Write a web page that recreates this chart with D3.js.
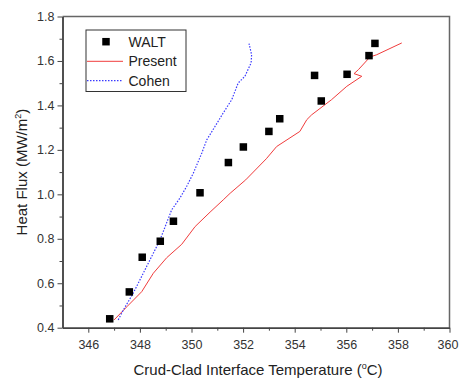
<!DOCTYPE html>
<html><head><meta charset="utf-8">
<script src="https://cdn.jsdelivr.net/npm/d3@7"></script>
<style>body{margin:0;background:#fff}svg{display:block}text{font-family:Arial,"Liberation Sans",sans-serif}</style>
</head><body><svg id="c" width="459" height="380"></svg>
<script>
const waltX = [346.83,347.59,348.09,348.79,349.30,350.33,351.43,352.01,353.00,353.42,354.77,355.03,356.03,356.88,357.11];
const waltY = [0.44,0.561,0.717,0.789,0.879,1.007,1.143,1.213,1.283,1.340,1.535,1.420,1.540,1.624,1.679];
const presentX = [347.0,347.5,348.07,348.52,349.04,349.62,350.14,350.72,351.23,351.5,352.1,352.9,353.3,354.2,354.47,354.66,355.43,356.02,356.60,356.30,356.47,356.92,357.18,358.15];
const presentY = [0.435,0.495,0.562,0.645,0.715,0.775,0.855,0.92,0.975,1.005,1.065,1.16,1.215,1.283,1.336,1.358,1.426,1.486,1.531,1.543,1.561,1.618,1.628,1.681];
const cohenX = [347.16,347.36,347.74,348.26,348.78,349.23,349.55,349.81,350.07,350.40,350.59,350.91,351.23,351.56,351.81,352.07,352.31,352.33,352.23];
const cohenY = [0.435,0.48,0.555,0.675,0.795,0.93,0.983,1.035,1.095,1.186,1.245,1.305,1.366,1.426,1.501,1.531,1.591,1.628,1.678];
const xTicks = [346,348,350,352,354,356,358,360];
const yTicks = [0.4,0.6,0.8,1.0,1.2,1.4,1.6,1.8];
const xMinor = [347,349,351,353,355,357,359];
const yMinor = [0.5,0.7,0.9,1.1,1.3,1.5,1.7];

const svg = d3.select("#c");
const L=62.5,R=449.5,T=16.5,B=327.7;
const x = d3.scaleLinear().domain([345,360]).range([L,R]);
const y = d3.scaleLinear().domain([0.4,1.8]).range([B,T]);
const axCol="#444";

svg.append("path").attr("d",`M${L},${T}H${R}V${B}`).attr("fill","none").attr("stroke","#666").attr("stroke-width",1.5);

const xa = svg.append("g").attr("transform",`translate(0,${B})`)
  .call(d3.axisBottom(x).tickValues(xTicks).tickFormat(d3.format("d")).tickSize(5).tickSizeOuter(0));
const xm = svg.append("g").attr("transform",`translate(0,${B})`)
  .call(d3.axisBottom(x).tickValues(xMinor).tickFormat("").tickSize(3).tickSizeOuter(0));
const ya = svg.append("g").attr("transform",`translate(${L},0)`)
  .call(d3.axisLeft(y).tickValues(yTicks).tickFormat(d3.format(".1f")).tickSize(5).tickSizeOuter(0));
const ym = svg.append("g").attr("transform",`translate(${L},0)`)
  .call(d3.axisLeft(y).tickValues(yMinor).tickFormat("").tickSize(3).tickSizeOuter(0));
[xa,xm,ya,ym].forEach(g=>{
  g.select(".domain").attr("stroke",axCol).attr("stroke-width",1.5);
  g.selectAll(".tick line").attr("stroke",axCol).attr("stroke-width",1);
  g.selectAll(".tick text").attr("fill","#333").style("font-size","12.5px").style("font-family","Arial,'Liberation Sans',sans-serif");
});
xa.selectAll(".tick text").attr("dy","1.1em").attr("dx",d=>d===360?-2:0);
ya.selectAll(".tick text").attr("x",-8);

const line = d3.line().x(d=>x(d[0])).y(d=>y(d[1]));
svg.append("path").datum(presentX.map((v,i)=>[v,presentY[i]])).attr("d",line)
  .attr("fill","none").attr("stroke","#f03c3c").attr("stroke-width",1);
svg.append("path").datum(cohenX.map((v,i)=>[v,cohenY[i]])).attr("d",line)
  .attr("fill","none").attr("stroke","#3a3aff").attr("stroke-width",1.2).attr("stroke-dasharray","1.5,1.5");
const s=7.5;
svg.selectAll("rect.w").data(waltX.map((v,i)=>[v,waltY[i]])).enter().append("rect")
  .attr("x",d=>x(d[0])-s/2).attr("y",d=>y(d[1])-s/2).attr("width",s).attr("height",s).attr("fill","#000");

const lg = svg.append("g");
lg.append("rect").attr("x",86).attr("y",30).attr("width",100).attr("height",61.5).attr("fill","#fff").attr("stroke","#333").attr("stroke-width",1);
lg.append("rect").attr("x",106-s/2).attr("y",41.7-s/2).attr("width",s).attr("height",s).attr("fill","#000");
lg.append("line").attr("x1",87).attr("x2",123).attr("y1",61.3).attr("y2",61.3).attr("stroke","#f03c3c").attr("stroke-width",1);
lg.append("line").attr("x1",87).attr("x2",123).attr("y1",80.7).attr("y2",80.7).attr("stroke","#3a3aff").attr("stroke-width",1.2).attr("stroke-dasharray","1.5,1.5");
const names=["WALT","Present","Cohen"], ly=[41.7,61.3,80.7];
names.forEach((n,i)=>lg.append("text").attr("x",128.5).attr("y",ly[i]).attr("dy","0.36em").attr("fill","#222").style("font-size","14px").text(n));

const xt = svg.append("text").attr("x",(L+R)/2+2).attr("y",375).attr("text-anchor","middle").attr("fill","#222").style("font-size","15px");
xt.append("tspan").text("Crud-Clad Interface Temperature (");
xt.append("tspan").text("o").attr("dy","-6").style("font-size","9px");
xt.append("tspan").text("C)").attr("dy","6");
const yt = svg.append("text").attr("transform",`translate(27,${(T+B)/2}) rotate(-90)`).attr("text-anchor","middle").attr("fill","#222").style("font-size","15px");
yt.append("tspan").text("Heat Flux (MW/m");
yt.append("tspan").text("2").attr("dy","-6").style("font-size","9px");
yt.append("tspan").text(")").attr("dy","6");
</script></body></html>
